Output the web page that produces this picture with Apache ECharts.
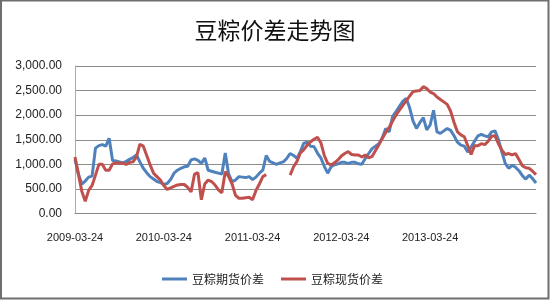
<!DOCTYPE html>
<html>
<head>
<meta charset="utf-8">
<script src="https://cdn.jsdelivr.net/npm/echarts@6/dist/echarts.min.js"></script>
<style>
html,body{margin:0;padding:0;background:#fff;}
#c{width:550px;height:300px;}
</style>
</head>
<body>
<div id="c"></div>
<script>
const titleText = '豆粽价差走势图';
const seriesNames = ['豆粽期货价差', '豆粽现货价差'];
const tickLabels = ['2009-03-24', '2010-03-24', '2011-03-24', '2012-03-24', '2013-03-24'];
const yTicks = [0, 500, 1000, 1500, 2000, 2500, 3000];

const dates = [
'2009-03-24','2009-04-07','2009-04-21','2009-05-05','2009-05-19','2009-06-02','2009-06-16','2009-06-30','2009-07-14','2009-07-28','2009-08-11','2009-08-25','2009-09-08','2009-09-22','2009-10-06','2009-10-20','2009-11-03','2009-11-17','2009-12-01','2009-12-15','2009-12-29','2010-01-12','2010-01-26','2010-02-09','2010-02-23','2010-03-09',
'2010-03-24','2010-04-07','2010-04-21','2010-05-05','2010-05-19','2010-06-02','2010-06-16','2010-06-30','2010-07-14','2010-07-28','2010-08-11','2010-08-25','2010-09-08','2010-09-22','2010-10-06','2010-10-20','2010-11-03','2010-11-17','2010-12-01','2010-12-15','2010-12-29','2011-01-12','2011-01-26','2011-02-09','2011-02-23','2011-03-09',
'2011-03-24','2011-04-07','2011-04-21','2011-05-05','2011-05-19','2011-06-02','2011-06-16','2011-06-30','2011-07-14','2011-07-28','2011-08-11','2011-08-25','2011-09-08','2011-09-22','2011-10-06','2011-10-20','2011-11-03','2011-11-17','2011-12-01','2011-12-15','2011-12-29','2012-01-12','2012-01-26','2012-02-09','2012-02-23','2012-03-08',
'2012-03-24','2012-04-07','2012-04-21','2012-05-05','2012-05-19','2012-06-02','2012-06-16','2012-06-30','2012-07-14','2012-07-28','2012-08-11','2012-08-25','2012-09-08','2012-09-22','2012-10-06','2012-10-20','2012-11-03','2012-11-17','2012-12-01','2012-12-15','2012-12-29','2013-01-12','2013-01-26','2013-02-09','2013-02-23','2013-03-09',
'2013-03-24','2013-04-07','2013-04-21','2013-05-05','2013-05-19','2013-06-02','2013-06-16','2013-06-30','2013-07-14','2013-07-28','2013-08-11','2013-08-25','2013-09-08','2013-09-22','2013-10-06','2013-10-20','2013-11-03','2013-11-17','2013-12-01','2013-12-15','2013-12-29','2014-01-12','2014-01-26','2014-02-09','2014-02-23','2014-03-09',
'2014-03-24','2014-04-07','2014-04-21','2014-05-05','2014-05-19','2014-06-02'
];

const futuresSpread = [
1100,800,600,660,740,760,1330,1380,1400,1370,1530,1080,1070,1050,1030,1060,1100,1140,1190,1050,920,830,750,700,650,630,
590,610,690,820,880,920,950,960,1090,1110,1080,1020,1130,880,860,840,820,800,1230,800,650,680,750,740,730,750,
690,740,820,880,1180,1060,1030,1000,1030,1050,1120,1220,1180,1120,1260,1430,1450,1370,1360,1230,1130,960,820,950,990,1010,
1040,1040,1020,1040,1040,1010,1000,1120,1220,1320,1370,1420,1540,1730,1660,1970,2070,2180,2280,2340,2150,1880,1730,1850,1950,1700,
1800,2100,1660,1630,1680,1730,1690,1580,1450,1390,1370,1250,1350,1470,1580,1610,1580,1560,1660,1680,1500,1250,1020,920,980,940,
870,770,700,780,710,620
];

const spotSpread = [
1150,800,450,250,470,570,780,1000,1000,880,880,1010,1030,1020,1020,1000,1040,1050,1150,1410,1370,1180,990,820,750,680,
570,490,520,550,580,590,590,530,440,800,830,280,600,680,650,580,480,420,850,750,600,370,310,310,320,330,
280,470,600,750,790,null,null,null,null,null,null,780,950,1060,1230,1300,1390,1460,1510,1550,1440,1180,1020,990,1030,1090,
1170,1220,1260,1200,1190,1190,1150,1190,1130,1160,1280,1400,1530,1650,1750,1880,2000,2100,2200,2290,2390,2480,2490,2500,2580,2540,
2470,2440,2370,2320,2270,2220,2080,1850,1660,1600,1560,1380,1200,1380,1380,1420,1400,1470,1570,1580,1420,1290,1200,1220,1190,1220,
1100,970,930,920,860,790
];

const chart = echarts.init(document.getElementById('c'), null, {renderer: 'canvas'});
const fmt = v => v.toLocaleString('en-US', {minimumFractionDigits: 2, maximumFractionDigits: 2});
chart.setOption({
  animation: false,
  backgroundColor: '#fff',
  graphic: [{
    type: 'rect', silent: true,
    shape: {x: 1, y: 0.5, width: 547.5, height: 298},
    style: {fill: 'none', stroke: '#6e6e6e', lineWidth: 2}
  }],
  title: {
    text: titleText, left: 'center', top: 14,
    textStyle: {fontFamily: 'Noto Sans CJK SC', fontSize: 23, fontWeight: 'normal', color: '#111'}
  },
  legend: {
    data: seriesNames, left: 157, top: 268, itemWidth: 25, itemHeight: 3, itemGap: 17,
    icon: 'rect',
    textStyle: {fontFamily: 'Noto Sans CJK SC', fontSize: 12, color: '#222'}
  },
  grid: {left: 75, right: 14, top: 66, bottom: 86.5, containLabel: false},
  xAxis: {
    type: 'category', data: dates, boundaryGap: false,
    axisLine: {lineStyle: {color: '#888', width: 1}},
    axisTick: {show: false},
    axisLabel: {
      interval: (idx, val) => tickLabels.includes(val),
      margin: 19, fontFamily: 'Liberation Sans', fontSize: 11, color: '#222'
    },
    splitLine: {show: false}
  },
  yAxis: {
    type: 'value', min: yTicks[0], max: yTicks[yTicks.length - 1], interval: 500,
    axisLine: {show: true, lineStyle: {color: '#aaa'}},
    axisTick: {show: false},
    axisLabel: {formatter: fmt, margin: 13, fontFamily: 'Liberation Sans', fontSize: 12, color: '#222'},
    splitLine: {lineStyle: {color: '#8c8c8c', width: 1}}
  },
  series: [
    {name: seriesNames[0], type: 'line', data: futuresSpread, showSymbol: false, symbol: 'none',
     lineStyle: {color: '#4F81BD', width: 3}, itemStyle: {color: '#4F81BD'}, connectNulls: false},
    {name: seriesNames[1], type: 'line', data: spotSpread, showSymbol: false, symbol: 'none',
     lineStyle: {color: '#C0504D', width: 3}, itemStyle: {color: '#C0504D'}, connectNulls: false}
  ]
});
</script>
</body>
</html>
